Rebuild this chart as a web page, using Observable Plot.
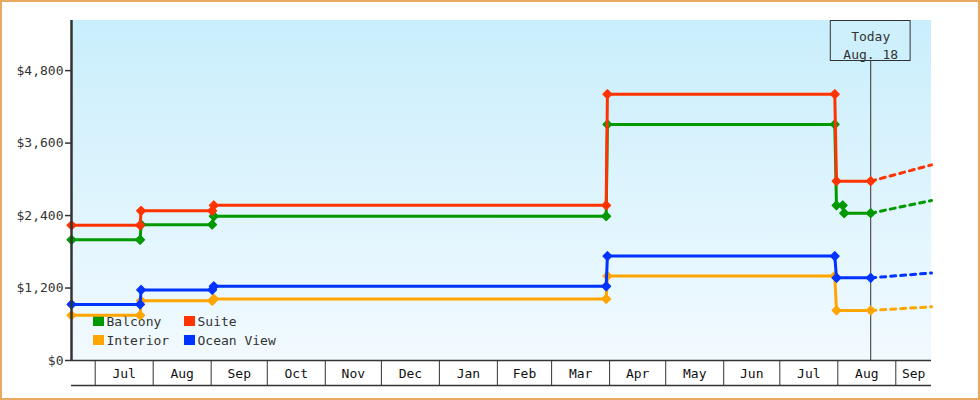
<!DOCTYPE html>
<html><head><meta charset="utf-8">
<script src="https://cdn.jsdelivr.net/npm/d3@7"></script>
<script src="https://cdn.jsdelivr.net/npm/@observablehq/plot@0.6"></script>
<style>
body{margin:0;background:#fff}
#wrap{position:relative;width:980px;height:400px;overflow:hidden}
#wrap::after{content:"";position:absolute;left:0;top:0;right:0;bottom:0;border:2px solid #e8a860;pointer-events:none;box-sizing:border-box}
#wrap svg{display:block}
</style></head><body><div id="wrap"></div>
<script>
// ---- data ----
const seriesNames = ["Balcony", "Suite", "Interior", "Ocean View"];
const seriesColors = ["#009900", "#ff3300", "#ffa500", "#0033ff"];
const drawOrder = ["Interior", "Ocean View", "Balcony", "Suite"];

const priceDates = ["2011-06-18T08:00Z", "2011-07-25T00:00Z", "2011-07-25T13:00Z", "2011-09-01T13:00Z", "2011-09-02T10:00Z",
  "2012-03-30T04:00Z", "2012-03-30T20:00Z", "2012-07-30T09:00Z", "2012-07-31T07:00Z", "2012-08-18T14:00Z"];
const balconyDates = ["2011-06-18T08:00Z", "2011-07-25T00:00Z", "2011-07-25T13:00Z", "2011-09-01T13:00Z", "2011-09-02T10:00Z",
  "2012-03-30T04:00Z", "2012-03-30T20:00Z", "2012-07-30T09:00Z", "2012-07-31T07:00Z", "2012-08-03T15:00Z", "2012-08-04T10:00Z", "2012-08-18T14:00Z"];

const suitePrices = [2239, 2239, 2479, 2479, 2569, 2569, 4409, 4409, 2969, 2969];
const balconyPrices = [1999, 1999, 2249, 2249, 2389, 2389, 3909, 3909, 2569, 2569, 2439, 2439];
const oceanViewPrices = [929, 929, 1169, 1169, 1229, 1229, 1729, 1729, 1369, 1369];
const interiorPrices = [749, 749, 989, 989, 1019, 1019, 1399, 1399, 829, 829];

const todayDate = "2012-08-18T14:00Z";
const todayLabel = "Today\nAug. 18";
const forecastDate = "2012-09-20T02:00Z";
const forecastSeries = ["Balcony", "Suite", "Interior", "Ocean View"];
const forecastTodayPrices = [2439, 2969, 829, 1369];
const forecastEndPrices = [2649, 3239, 889, 1449];

const xStart = "2011-06-18T08:00Z";
const xEnd = "2012-09-20T02:00Z";
const yTicks = [0, 1200, 2400, 3600, 4800];
const yMax = 5630;

// ---- build tables ----
const P = d3.isoParse;
const rows = [];
const addSeries = (name, dates, prices) => dates.forEach((d, i) => rows.push({series: name, date: P(d), price: prices[i]}));
addSeries("Suite", priceDates, suitePrices);
addSeries("Balcony", balconyDates, balconyPrices);
addSeries("Ocean View", priceDates, oceanViewPrices);
addSeries("Interior", priceDates, interiorPrices);

const forecastRows = [];
forecastSeries.forEach((s, i) => {
  forecastRows.push({series: s, date: P(todayDate), price: forecastTodayPrices[i]});
  forecastRows.push({series: s, date: P(forecastDate), price: forecastEndPrices[i]});
});

const x0 = P(xStart), x1 = P(xEnd);
const monthStarts = d3.utcMonth.range(x0, x1);
const cells = [x0, ...monthStarts, x1];
const monthLabels = [];
for (let i = 0; i < cells.length - 1; i++) {
  const a = cells[i], b = cells[i + 1];
  if ((b - a) / 864e5 >= 15) monthLabels.push(new Date((+a + +b) / 2));
}

const colorOf = name => seriesColors[seriesNames.indexOf(name)];
const FONT = "'DejaVu Sans Mono', monospace";

// background gradient (render-function mark)
const background = (index, scales, values, dim) => {
  const g = d3.create("svg:g");
  const grad = g.append("defs").append("linearGradient").attr("id", "bgGrad")
    .attr("x1", 0).attr("y1", 0).attr("x2", 0).attr("y2", 1);
  grad.append("stop").attr("offset", "0%").attr("stop-color", "#c9eefc");
  grad.append("stop").attr("offset", "100%").attr("stop-color", "#f2faff");
  g.append("rect")
    .attr("x", dim.marginLeft).attr("y", dim.marginTop)
    .attr("width", dim.width - dim.marginLeft - dim.marginRight)
    .attr("height", dim.height - dim.marginTop - dim.marginBottom)
    .attr("fill", "url(#bgGrad)");
  return g.node();
};

// legend inside the plot (drawn beneath the lines)
const legend = (index, scales, values, dim) => {
  const g = d3.create("svg:g").attr("font-family", FONT).attr("font-size", 13).attr("fill", "#333").attr("text-anchor", "start");
  const left = dim.marginLeft + 22;
  const bottom = dim.height - dim.marginBottom;
  seriesNames.forEach((name, i) => {
    const col = i % 2, row = Math.floor(i / 2);
    const sx = left + col * 91;
    const sy = bottom - 44 + row * 19;
    g.append("rect").attr("x", sx).attr("y", sy).attr("width", 11).attr("height", 10).attr("fill", colorOf(name));
    g.append("text").attr("x", sx + 13.5).attr("y", sy + 10).attr("text-anchor", "start").text(name);
  });
  return g.node();
};

const seriesMarks = drawOrder.flatMap(s => [
  Plot.line(rows.filter(r => r.series === s), {x: "date", y: "price", stroke: colorOf(s), strokeWidth: 3, strokeLinejoin: "miter"}),
  Plot.dot(rows.filter(r => r.series === s), {x: "date", y: "price", symbol: "diamond2", r: 4, fill: colorOf(s), stroke: colorOf(s), strokeWidth: 1.2, strokeLinejoin: "round"})
]);
const forecastMarks = drawOrder.map(s =>
  Plot.line(forecastRows.filter(r => r.series === s), {x: "date", y: "price", stroke: colorOf(s), strokeWidth: 3, strokeDasharray: "5,5"})
);

const chart = Plot.plot({
  width: 980,
  height: 400,
  marginLeft: 71,
  marginRight: 49,
  marginTop: 20,
  marginBottom: 40,
  style: {fontFamily: FONT, fontSize: "13px", background: "transparent", color: "#333"},
  x: {type: "utc", domain: [x0, x1]},
  y: {domain: [0, yMax]},
  marks: [
    background,
    Plot.ruleX([P(todayDate)], {stroke: "#333", strokeWidth: 1}),
    legend,
    ...forecastMarks,
    ...seriesMarks,
    Plot.ruleY([0], {stroke: "#333", strokeWidth: 1.5}),
    Plot.ruleY([-yMax * 25 / 340], {stroke: "#333", strokeWidth: 1.5}),
    Plot.ruleX([x0], {stroke: "#333", strokeWidth: 2.5}),
    Plot.axisY({ticks: yTicks, tickSize: 6, tickPadding: 2, tickFormat: d => "$" + d3.format(",")(d), label: null, stroke: "#333", strokeWidth: 1.5, fill: "#333"}),
    Plot.axisX({ticks: monthStarts, tickSize: 25, tickFormat: () => "", label: null, stroke: "#333", strokeWidth: 1}),
    Plot.axisX({ticks: monthLabels, tickSize: 0, tickPadding: 8, tickFormat: d3.utcFormat("%b"), label: null, fill: "#111"}),
    Plot.text([P(todayDate)], {x: d => d, text: () => todayLabel, frameAnchor: "top", lineAnchor: "top", dy: 8, lineHeight: 1.35, fill: "#333", fontSize: 13})
  ]
});

document.getElementById("wrap").append(chart);

// box around the "Today" label
const tg = chart.querySelector('g[aria-label="text"]');
if (tg) {
  const bb = tg.getBBox();
  const rect = document.createElementNS("http://www.w3.org/2000/svg", "rect");
  rect.setAttribute("x", bb.x - 12.5);
  rect.setAttribute("y", 20.5);
  rect.setAttribute("width", bb.width + 25);
  rect.setAttribute("height", 40);
  rect.setAttribute("fill", "#cdf0fc");
  rect.setAttribute("stroke", "#333");
  rect.setAttribute("stroke-width", 1);
  tg.parentNode.insertBefore(rect, tg);
}
</script></body></html>
